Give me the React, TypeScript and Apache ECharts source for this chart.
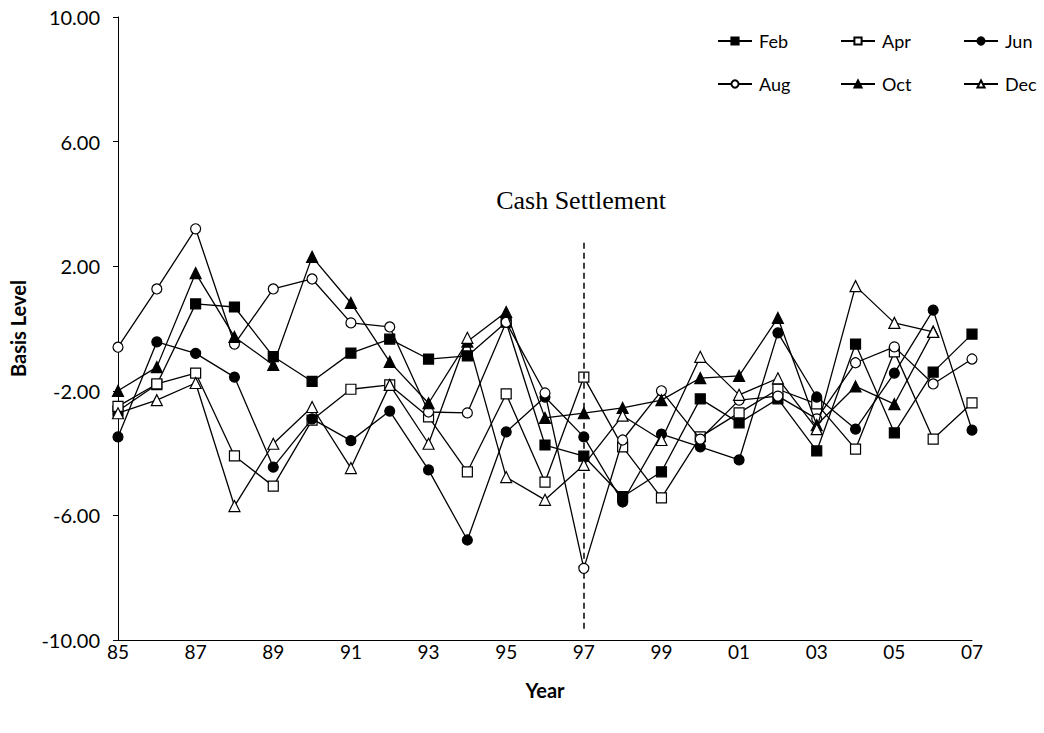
import React, { useEffect, useRef } from "react";
import * as echarts from "echarts";

const years = ["85","86","87","88","89","90","91","92","93","94","95","96","97","98","99","00","01","02","03","04","05","06","07"];
const feb = [-2.65, -1.8, 0.79, 0.69, -0.9, -1.7, -0.79, -0.34, -0.98, -0.88, 0.2, -3.74, -4.1, -5.4, -4.6, -2.26, -3.03, -2.26, -3.93, -0.5, -3.35, -1.4, -0.18];
const apr = [-2.5, -1.78, -1.43, -4.09, -5.06, -2.94, -1.95, -1.81, -2.84, -4.6, -2.1, -4.93, -1.56, -3.8, -5.44, -3.48, -2.71, -1.95, -2.42, -3.87, -0.75, -3.55, -2.39];
const jun = [-3.48, -0.43, -0.8, -1.56, -4.45, -2.9, -3.6, -2.65, -4.54, -6.79, -3.32, -2.2, -3.48, -5.57, -3.39, -3.8, -4.22, -0.14, -2.2, -3.23, -1.43, 0.59, -3.26];
const aug = [-0.6, 1.27, 3.2, -0.5, 1.27, 1.59, 0.18, 0.05, -2.68, -2.71, 0.2, -2.07, -7.7, -3.58, -2.0, -3.55, -2.3, -2.17, -2.9, -1.1, -0.59, -1.78, -0.98];
const oct = [-2.0, -1.24, 1.78, -0.27, -1.17, 2.3, 0.82, -1.07, -2.4, -0.42, 0.53, -2.87, -2.72, -2.55, -2.3, -1.59, -1.52, 0.34, -3.1, -1.86, -2.43, -0.1, null];
const dec = [-2.72, -2.3, -1.75, -5.7, -3.7, -2.52, -4.48, -1.81, -3.7, -0.3, -4.77, -5.5, -4.38, -2.8, -3.58, -0.91, -2.13, -1.6, -3.23, 1.36, 0.18, -0.11, null];

const settlementYear = "97";
const settlementTop = 2.75;
const settlementBottom = -9.75;

const seriesDefs = [
  { name: "Feb", data: feb, symbol: "rect", fill: "#000", size: 10 },
  { name: "Apr", data: apr, symbol: "rect", fill: "#fff", size: 10 },
  { name: "Jun", data: jun, symbol: "circle", fill: "#000", size: 10 },
  { name: "Aug", data: aug, symbol: "circle", fill: "#fff", size: 10 },
  { name: "Oct", data: oct, symbol: "triangle", fill: "#000", size: 11 },
  { name: "Dec", data: dec, symbol: "triangle", fill: "#fff", size: 11 },
];

const legendPos = [
  { left: 717, top: 32 },
  { left: 840, top: 32 },
  { left: 963, top: 32 },
  { left: 717, top: 75 },
  { left: 840, top: 75 },
  { left: 963, top: 75 },
];

export default function App() {
  const ref = useRef<HTMLDivElement>(null);
  useEffect(() => {
    if (!ref.current) return;
    const chart = echarts.init(ref.current, null, { renderer: "svg" });
    const font = "Lato, 'Open Sans', sans-serif";
    const series: any[] = seriesDefs.map((s, i) => ({
      name: s.name,
      type: "line",
      data: s.data,
      symbol: s.symbol,
      symbolSize: s.size,
      showAllSymbol: true,
      connectNulls: false,
      lineStyle: { color: "#000", width: 1.3 },
      itemStyle: { color: s.fill, borderColor: "#000", borderWidth: 1.2 },
      z: 2 + i,
      markLine:
        i === 0
          ? {
              silent: true,
              symbol: "none",
              label: { show: false },
              lineStyle: { color: "#000", type: [6, 4], width: 1.5 },
              data: [[{ coord: [settlementYear, settlementTop] }, { coord: [settlementYear, settlementBottom] }]],
            }
          : undefined,
    }));
    const legends = seriesDefs.map((s, i) => ({
      data: [s.name],
      left: legendPos[i].left,
      top: legendPos[i].top,
      padding: 0,
      itemWidth: 34,
      itemHeight: 9,
      itemGap: 0,
      textStyle: { fontFamily: font, fontSize: 18, color: "#000", padding: [0, 0, 0, 2] },
      selectedMode: false,
    }));
    chart.setOption({
      animation: false,
      backgroundColor: "#fff",
      grid: { left: 117, right: 72, top: 17, bottom: 93, containLabel: false },
      legend: legends,
      graphic: [
        {
          type: "text",
          x: 581,
          y: 200,
          style: {
            text: "Cash Settlement",
            font: "26px 'Liberation Serif', 'Times New Roman', serif",
            fill: "#000",
            textAlign: "center",
            textVerticalAlign: "middle",
          },
        },
      ],
      xAxis: {
        type: "category",
        data: years,
        boundaryGap: false,
        name: "Year",
        nameLocation: "middle",
        nameGap: 40,
        nameTextStyle: { fontFamily: font, fontSize: 20, fontWeight: "bold", color: "#000" },
        axisLine: { onZero: false, lineStyle: { color: "#000", width: 1 } },
        axisTick: { show: false },
        axisLabel: { interval: 1, fontFamily: font, fontSize: 19, color: "#000", margin: 2 },
        splitLine: { show: false },
      },
      yAxis: {
        type: "value",
        min: -10,
        max: 10,
        interval: 4,
        name: "Basis Level",
        nameLocation: "middle",
        nameGap: 90,
        nameTextStyle: { fontFamily: font, fontSize: 20, fontWeight: "bold", color: "#000" },
        axisLine: { show: true, lineStyle: { color: "#000", width: 1 } },
        axisTick: { show: true, length: 5, lineStyle: { color: "#000" } },
        axisLabel: { formatter: (v: number) => v.toFixed(2), fontFamily: font, fontSize: 20, color: "#000", margin: 18 },
        splitLine: { show: false },
      },
      series,
    });
    return () => chart.dispose();
  }, []);
  return <div ref={ref} style={{ width: 1044, height: 733, position: "absolute", left: 0, top: 0 }} />;
}
